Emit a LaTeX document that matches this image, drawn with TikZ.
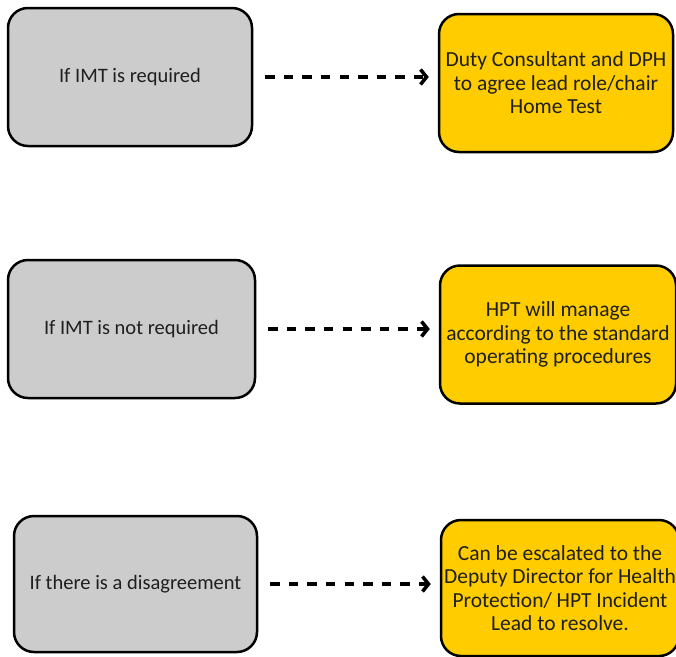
\documentclass[tikz,border=0pt]{standalone}
\usepackage{fontspec}
\setmainfont{Carlito}
\usetikzlibrary{arrows.meta}
\definecolor{condgray}{RGB}{204,204,204}
\definecolor{actyellow}{RGB}{255,204,0}
\tikzset{
  box/.style={draw, line width=2.5pt, rounded corners=20pt, align=center,
    text=black!88},
  cond/.style={box, fill=condgray, minimum width=244pt, minimum height=138pt,
    font=\fontsize{20.5}{24}\selectfont},
  act/.style={box, fill=actyellow, minimum width=236pt, minimum height=138pt,
    inner sep=1pt, font=\fontsize{21.5}{23.5}\selectfont},
  link/.style={line width=3.5pt, dash pattern=on 9.3pt off 9.3pt,
    shorten <=12pt, shorten >=9pt,
    -{Straight Barb[length=6pt, width=15pt, line width=3.5pt]}}
}
\begin{document}
\begin{tikzpicture}[x = 1pt, y = -1pt]
  \useasboundingbox (0, 0) rectangle (676, 656);

  \node[cond] (c1) at (130, 77) {If IMT is required};
  \node[act, minimum width=234pt] (a1) at (556, 83) {Duty Consultant and DPH\\to agree lead role/chair\\Home Test};
  \draw[link] (c1) -- (c1 -| a1.west);

  \node[cond, minimum width=247pt] (c2) at (131.5, 329) {If IMT is not required};
  \node[act] (a2) at (558, 334.5) {HPT will manage\\according to the standard\\operating procedures};
  \draw[link] (c2) -- (c2 -| a2.west);

  \node[cond, minimum width=243pt, minimum height=136pt] (c3) at (135.5, 584) {If there is a disagreement};
  \node[act, minimum width=238pt, minimum height=136pt] (a3) at (560, 588) {Can be escalated to the\\Deputy Director for Health\\Protection/ HPT Incident\\Lead to resolve.};
  \draw[link] (c3) -- (c3 -| a3.west);
\end{tikzpicture}
\end{document}
